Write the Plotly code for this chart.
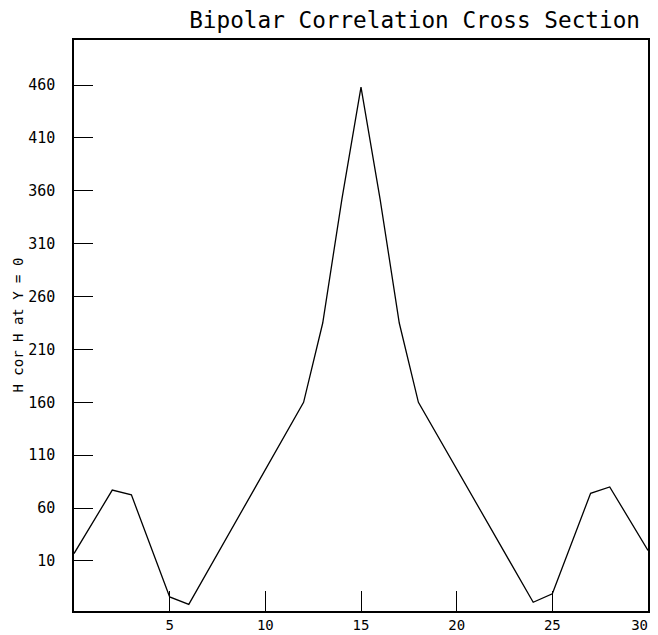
import plotly.graph_objects as go

# Data
x_vals = [0, 1.7, 2, 3, 5, 6, 12, 13, 14, 15, 16, 17, 18, 24, 25, 27, 28, 30]
y_vals = [17, 68, 77, 72.5, -24, -31, 160, 235, 352, 458, 352, 235, 160, -29, -21, 74, 80, 20]

x_ticks = [5, 10, 15, 20, 25, 30]
x_tick_labels = ["5", "10", "15", "20", "25", "30\u00a0\u00a0"]
y_ticks = [10, 60, 110, 160, 210, 260, 310, 360, 410, 460]

title_text = "Bipolar Correlation Cross Section"
y_title = "H cor H at Y = 0"

FONT = "DejaVu Sans Mono"

# the page adds an 8px body margin, so the figure is drawn smaller to fit
W, H = 650, 627

fig = go.Figure()
fig.add_trace(go.Scatter(
    x=x_vals, y=y_vals, mode="lines",
    line=dict(color="black", width=1.3),
    showlegend=False, hoverinfo="skip",
))

fig.update_layout(
    width=W, height=H,
    template="none",
    paper_bgcolor="white", plot_bgcolor="white",
    margin=dict(l=66, r=10, t=32, b=24, autoexpand=False),
    font=dict(family=FONT, color="black"),
    title=dict(
        text=title_text,
        font=dict(family=FONT, size=22.7, color="black"),
        x=0.986, xref="paper", xanchor="right",
        y=1 - 12 / H, yref="container", yanchor="middle",
    ),
    annotations=[dict(
        text=y_title, textangle=-90,
        xref="paper", yref="paper",
        x=(9 - 66) / 574, y=0.50,
        xanchor="center", yanchor="middle",
        showarrow=False,
        font=dict(family=FONT, size=14, color="black"),
    )],
)

fig.update_xaxes(
    range=[0, 30],
    tickmode="array", tickvals=x_ticks, ticktext=x_tick_labels,
    ticks="inside", ticklen=20, tickwidth=1.2, tickcolor="black",
    showline=True, linecolor="black", linewidth=1.5, mirror=True,
    showgrid=False, zeroline=False,
    tickfont=dict(family=FONT, size=14, color="black"),
    ticklabelstandoff=0,
    ticklabeloverflow="allow",
    automargin=False,
)
fig.update_yaxes(
    range=[-37.3, 502.6],
    tickmode="array", tickvals=y_ticks, ticktext=[str(t) for t in y_ticks],
    ticks="inside", ticklen=19, tickwidth=1.2, tickcolor="black",
    showline=True, linecolor="black", linewidth=1.5, mirror=True,
    showgrid=False, zeroline=False,
    tickfont=dict(family=FONT, size=15, color="black"),
    ticklabelstandoff=14,
    automargin=False,
)

fig.write_html("out.html")
